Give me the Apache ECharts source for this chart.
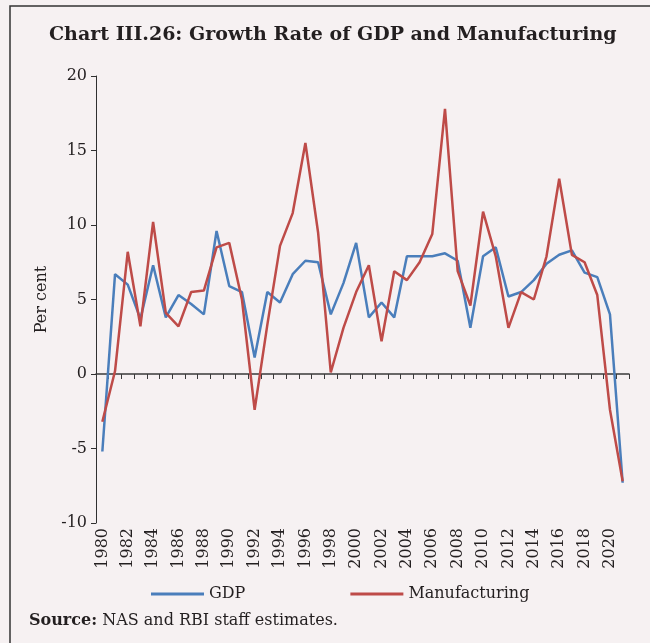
<!DOCTYPE html>
<html>
<head>
<meta charset="utf-8">
<script src="https://cdn.jsdelivr.net/npm/echarts@6/dist/echarts.min.js"></script>
<style>
  html, body { margin: 0; padding: 0; background: #f6f1f2; }
  #chart { width: 650px; height: 643px; }
</style>
</head>
<body>
<div id="chart"></div>
<script>
var years = [];
for (var y = 1980; y <= 2021; y++) { years.push(String(y)); }

var gdp = [-5.2, 6.7, 6.0, 3.7, 7.3, 3.8, 5.3, 4.7, 4.0, 9.6,
           5.9, 5.5, 1.1, 5.5, 4.8, 6.7, 7.6, 7.5, 4.0, 6.1,
           8.8, 3.8, 4.8, 3.8, 7.9, 7.9, 7.9, 8.1, 7.6, 3.1,
           7.9, 8.5, 5.2, 5.5, 6.3, 7.4, 8.0, 8.3, 6.8, 6.5,
           4.0, -7.3];

var manufacturing = [-3.2, 0.2, 8.2, 3.2, 10.2, 4.1, 3.2, 5.5, 5.6, 8.5,
                     8.8, 5.0, -2.4, 3.3, 8.6, 10.8, 15.5, 9.5, 0.1, 3.1,
                     5.5, 7.3, 2.2, 6.9, 6.3, 7.5, 9.4, 17.8, 6.9, 4.6,
                     10.9, 7.9, 3.1, 5.5, 5.0, 7.9, 13.1, 8.0, 7.5, 5.3,
                     -2.4, -7.2];

var serif = 'DejaVu Serif';
var ink = '#231f20';

var chart = echarts.init(document.getElementById('chart'));

var option = {
    backgroundColor: '#f6f1f2',
    animation: false,
    title: {
        text: 'Chart III.26: Growth Rate of GDP and Manufacturing',
        left: 44,
        top: 21,
        textStyle: { fontFamily: serif, fontWeight: 'bold', fontSize: 19, color: ink }
    },
    legend: {
        left: 146,
        top: 581,
        itemGap: 105,
        itemWidth: 53,
        itemHeight: 3,
        icon: 'rect',
        textStyle: { fontFamily: serif, fontSize: 16, color: ink },
        data: ['GDP', 'Manufacturing']
    },
    grid: { left: 96, top: 76, right: 21, bottom: 120, containLabel: false },
    xAxis: [
        {
            // labels only, kept at the bottom of the plot
            type: 'category',
            data: years,
            boundaryGap: true,
            axisLine: { show: false, onZero: false },
            axisTick: { show: false },
            axisLabel: {
                interval: 1,
                rotate: 90,
                margin: 5,
                fontFamily: serif,
                fontSize: 16,
                color: ink
            }
        },
        {
            // line and ticks crossing at zero
            type: 'category',
            data: years,
            boundaryGap: true,
            position: 'bottom',
            axisLine: { show: true, onZero: true, lineStyle: { color: '#3a3a3a', width: 1.5 } },
            axisTick: { show: true, inside: false, interval: 0, length: 5, lineStyle: { color: '#3a3a3a', width: 1 } },
            axisLabel: { show: false, interval: 0 }
        }
    ],
    yAxis: {
        type: 'value',
        min: -10,
        max: 20,
        interval: 5,
        name: 'Per cent',
        nameLocation: 'middle',
        nameGap: 44,
        nameTextStyle: { fontFamily: serif, fontSize: 16, color: ink },
        axisLine: { show: true, lineStyle: { color: '#303030' } },
        axisTick: { show: true, length: 5, lineStyle: { color: '#303030' } },
        axisLabel: { margin: 9, fontFamily: serif, fontSize: 16, color: ink },
        splitLine: { show: false }
    },
    graphic: [
        {
            type: 'rect',
            shape: { x: 10, y: 6, width: 700, height: 700 },
            style: { fill: 'none', stroke: '#333', lineWidth: 1.5 }
        },
        {
            type: 'text',
            left: 29,
            top: 613,
            style: {
                text: '{b|Source:} NAS and RBI staff estimates.',
                font: '16px "DejaVu Serif"',
                fill: ink,
                rich: {
                    b: { fontFamily: serif, fontWeight: 'bold', fontSize: 16, fill: ink }
                }
            }
        }
    ],
    series: [
        {
            name: 'GDP',
            type: 'line',
            data: gdp,
            symbol: 'none',
            itemStyle: { color: '#4a7ebb' },
            lineStyle: { color: '#4a7ebb', width: 2.5 }
        },
        {
            name: 'Manufacturing',
            type: 'line',
            data: manufacturing,
            symbol: 'none',
            itemStyle: { color: '#be4b48' },
            lineStyle: { color: '#be4b48', width: 2.5 }
        }
    ]
};

chart.setOption(option);
</script>
</body>
</html>
